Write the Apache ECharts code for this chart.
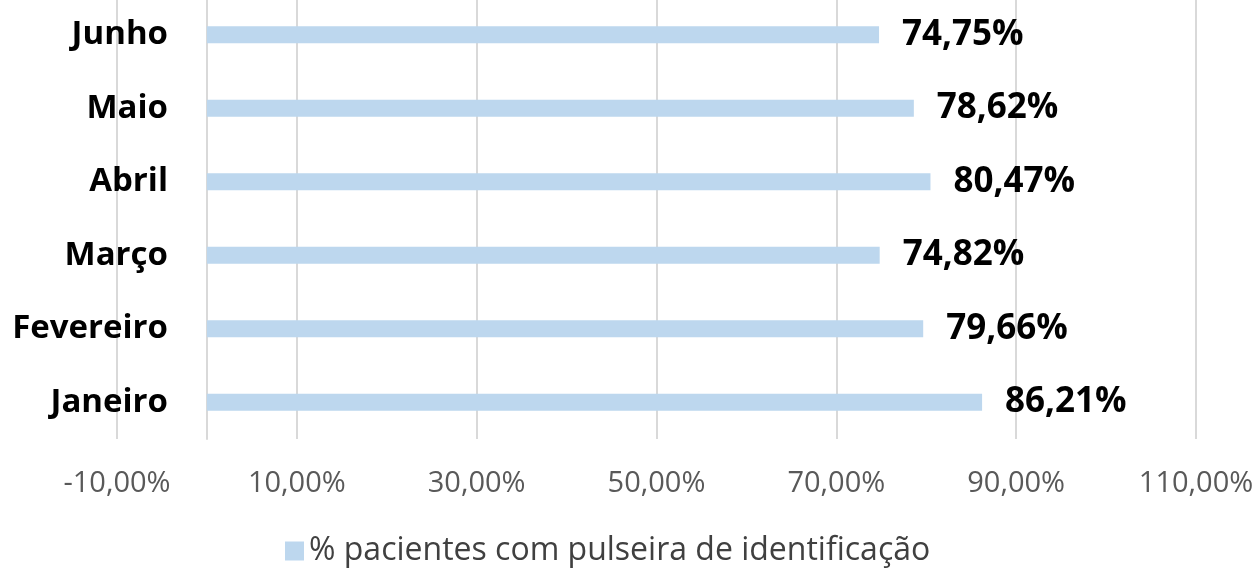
<!DOCTYPE html>
<html>
<head>
<meta charset="utf-8">
<script src="https://cdn.jsdelivr.net/npm/echarts@6/dist/echarts.min.js"></script>
<style>
  html, body { margin: 0; padding: 0; background: #fff; }
  #chart { width: 1258px; height: 572px; }
</style>
</head>
<body>
<div id="chart"></div>
<script>
// meses (de baixo para cima, como o eixo de categorias do ECharts)
var months = ['Janeiro', 'Fevereiro', 'Março', 'Abril', 'Maio', 'Junho'];
var pctPulseira = [86.21, 79.66, 74.82, 80.47, 78.62, 74.75];
var seriesName = '% pacientes com pulseira de identificação';
var axisMin = -10, axisMax = 110, axisStep = 20;

function fmtPct(v) {
    return v.toFixed(2).replace('.', ',') + '%';
}

var myChart = echarts.init(document.getElementById('chart'));
var option = {
    animation: false,
    textStyle: { fontFamily: 'Open Sans' },
    grid: {
        left: 117, right: 62, top: -2, height: 441,
        containLabel: false,
        outerBoundsMode: 'none'
    },
    legend: {
        data: [seriesName],
        left: 280,
        bottom: 0,
        icon: 'rect',
        itemWidth: 19,
        itemHeight: 19,
        itemGap: 8,
        textStyle: { fontSize: 32, color: '#404040', fontFamily: 'Open Sans' }
    },
    xAxis: {
        type: 'value',
        min: axisMin,
        max: axisMax,
        interval: axisStep,
        axisLine: { show: false },
        axisTick: { show: false },
        axisLabel: {
            formatter: fmtPct,
            fontSize: 29,
            color: '#595959',
            margin: 30
        },
        splitLine: { lineStyle: { color: '#d9d9d9', width: 2 } }
    },
    yAxis: {
        type: 'category',
        data: months,
        axisLine: { onZero: true, lineStyle: { color: '#d9d9d9', width: 2 } },
        axisTick: { show: false },
        axisLabel: {
            fontSize: 33,
            fontWeight: 'bold',
            color: '#000',
            margin: -51   // rótulos ficam na borda do grid, não no zero
        }
    },
    series: [{
        name: seriesName,
        type: 'bar',
        data: pctPulseira,
        barWidth: 17,
        itemStyle: { color: '#bdd7ee' },
        label: {
            show: true,
            position: 'right',
            distance: 23,
            formatter: function (p) { return fmtPct(p.value); },
            fontSize: 35,
            fontWeight: 'bold',
            color: '#000'
        }
    }]
};
myChart.setOption(option);
</script>
</body>
</html>
